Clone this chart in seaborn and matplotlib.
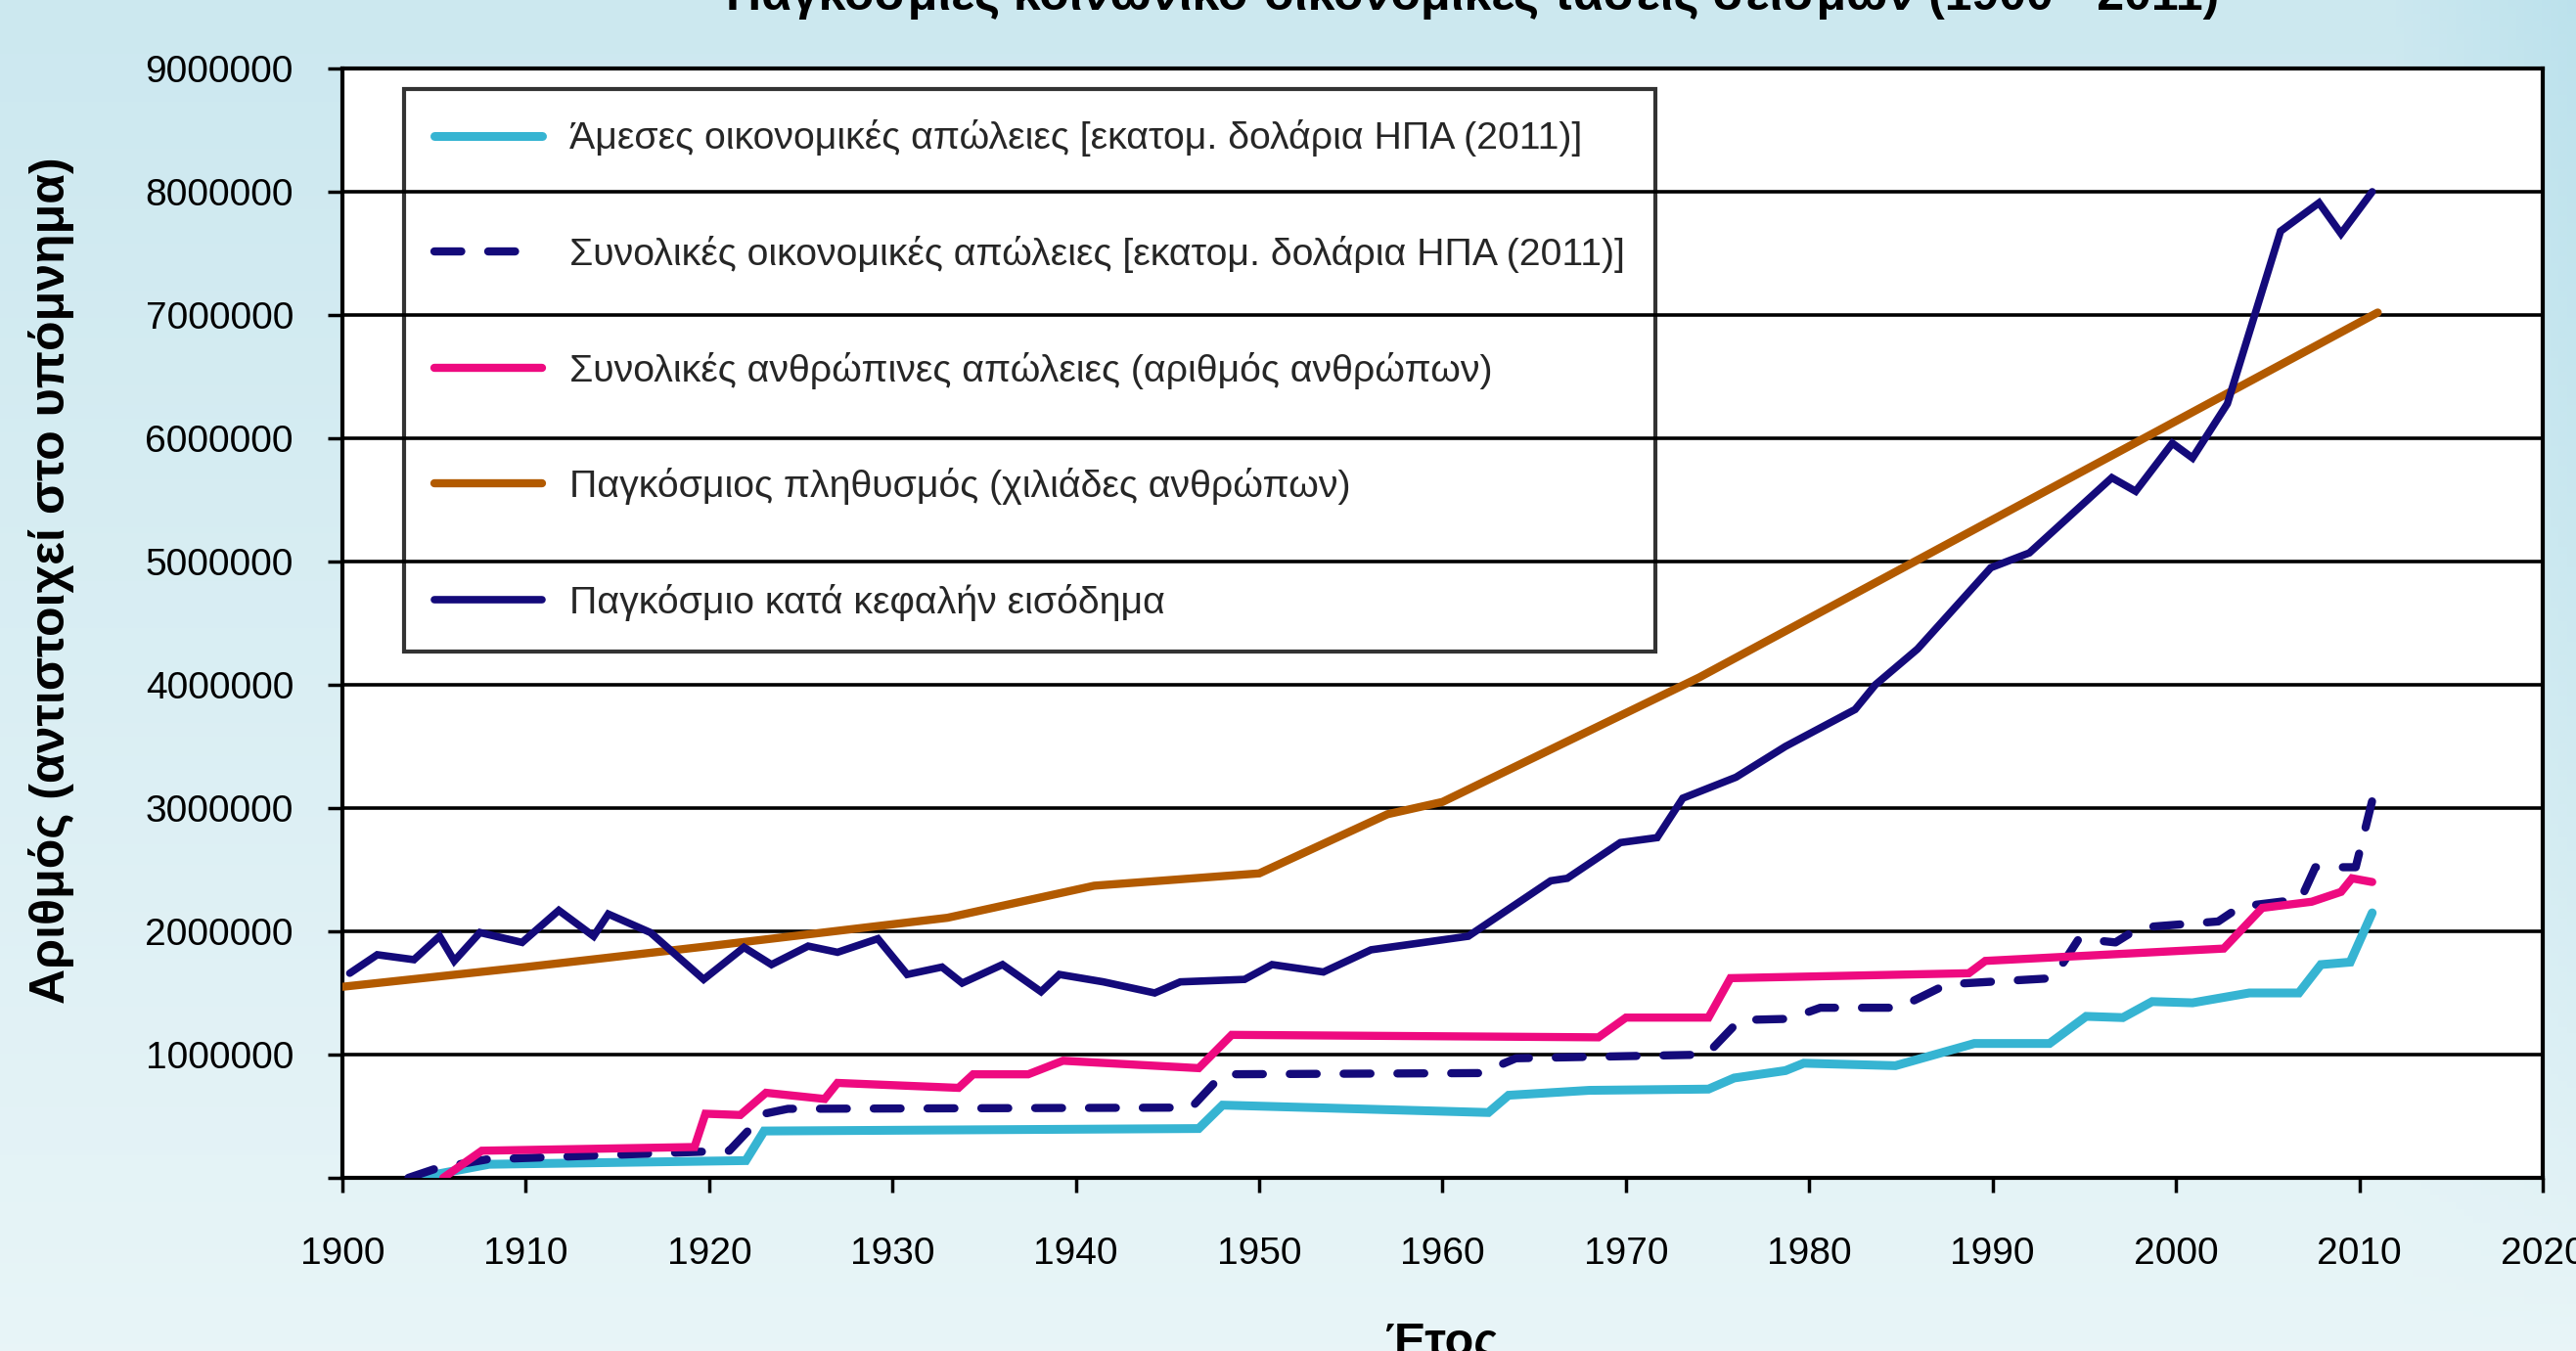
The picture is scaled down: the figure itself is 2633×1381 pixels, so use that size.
import numpy as np
import pandas as pd
import matplotlib.pyplot as plt
import seaborn as sns

# Values
years_direct = [1904.1, 1908.0, 1922.0, 1923.0, 1946.7, 1948.0, 1962.5, 1963.6, 1968.0, 1974.5,
                1975.9, 1978.7, 1979.7, 1984.7, 1989.0, 1993.1, 1995.1, 1997.1, 1998.7, 2000.9,
                2004.0, 2006.7, 2007.9, 2009.5, 2010.7]
direct_losses = [0, 110000, 140000, 380000, 400000, 590000, 530000, 670000, 710000, 720000,
                 810000, 870000, 930000, 910000, 1090000, 1090000, 1310000, 1300000, 1430000, 1420000,
                 1500000, 1500000, 1730000, 1750000, 2150000]

years_total = [1903.6, 1905.2, 1907.9, 1921.1, 1923.0, 1924.3, 1946.3, 1948.0, 1962.1, 1964.0,
               1974.4, 1976.2, 1978.9, 1980.6, 1984.9, 1987.5, 1993.3, 1994.7, 1996.7, 1998.0,
               2002.3, 2003.5, 2006.8, 2007.6, 2009.8, 2010.9]
total_losses = [0, 80000, 150000, 220000, 520000, 560000, 570000, 840000, 850000, 970000,
                1000000, 1280000, 1290000, 1380000, 1380000, 1570000, 1620000, 1940000, 1910000, 2030000,
                2080000, 2200000, 2260000, 2520000, 2520000, 3180000]

years_human = [1905.5, 1907.6, 1919.2, 1919.8, 1921.7, 1923.1, 1926.3, 1927.0, 1933.6, 1934.4,
               1937.4, 1939.3, 1946.7, 1948.5, 1968.5, 1970.0, 1974.5, 1975.7, 1988.7, 1989.6,
               2002.6, 2004.7, 2007.4, 2009.0, 2009.6, 2010.7]
human_losses = [0, 220000, 250000, 520000, 510000, 690000, 640000, 770000, 730000, 840000,
                840000, 950000, 890000, 1160000, 1140000, 1300000, 1300000, 1620000, 1660000, 1760000,
                1860000, 2190000, 2240000, 2320000, 2430000, 2400000]

years_pop = [1900, 1910, 1920, 1933, 1941, 1950, 1957, 1960, 1974, 2011]
population = [1550000, 1710000, 1880000, 2110000, 2370000, 2470000, 2950000, 3050000, 4060000, 7020000]

years_income = [1900.4, 1901.9, 1903.9, 1905.3, 1906.1, 1907.5, 1909.8, 1911.8, 1913.7, 1914.5,
                1916.8, 1919.7, 1921.9, 1923.4, 1925.4, 1927.0, 1929.2, 1930.8, 1932.7, 1933.8,
                1936.0, 1938.1, 1939.1, 1941.5, 1944.3, 1945.7, 1949.2, 1950.7, 1953.5, 1956.1,
                1961.4, 1965.9, 1966.8, 1969.7, 1971.7, 1973.1, 1976.0, 1978.7, 1982.5, 1983.6,
                1985.9, 1989.9, 1992.0, 1996.5, 1997.8, 1999.8, 2000.9, 2002.8, 2005.7, 2007.8,
                2009.0, 2010.7]
income = [1660000, 1810000, 1770000, 1960000, 1760000, 1990000, 1910000, 2170000, 1960000, 2140000,
          1990000, 1610000, 1870000, 1730000, 1880000, 1830000, 1940000, 1650000, 1710000, 1580000,
          1730000, 1510000, 1650000, 1590000, 1500000, 1590000, 1610000, 1730000, 1670000, 1850000,
          1960000, 2410000, 2430000, 2720000, 2760000, 3080000, 3250000, 3500000, 3800000, 4000000,
          4290000, 4950000, 5070000, 5680000, 5570000, 5960000, 5840000, 6280000, 7680000, 7910000,
          7660000, 8000000]

labels = [
    'Άμεσες οικονομικές απώλειες [εκατομ. δολάρια ΗΠΑ (2011)]',
    'Συνολικές οικονομικές απώλειες [εκατομ. δολάρια ΗΠΑ (2011)]',
    'Συνολικές ανθρώπινες απώλειες (αριθμός ανθρώπων)',
    'Παγκόσμιος πληθυσμός (χιλιάδες ανθρώπων)',
    'Παγκόσμιο κατά κεφαλήν εισόδημα',
]
x_ticks = list(range(1900, 2021, 10))
y_ticks = list(range(0, 9000001, 1000000))
y_tick_labels = [''] + [str(v) for v in y_ticks[1:]]

title = 'Παγκόσμιες κοινωνικο-οικονομικές τάσεις σεισμών (1900 - 2011)'
x_label = 'Έτος'
y_label = 'Αριθμός (αντιστοιχεί στο υπόμνημα)'

sns.set_theme(style='white')
plt.rcParams['font.family'] = ['Liberation Sans', 'DejaVu Sans']

W, H = 2633, 1381
fig = plt.figure(figsize=(W / 100, H / 100), dpi=100)

# soft light-blue backdrop
bg = fig.add_axes([0, 0, 1, 1], zorder=-10)
v = np.linspace(0, 1, 200)[:, None]
h = np.linspace(0, 1, 300)[None, :]
top = np.array([0.80, 0.91, 0.94])
bottom = np.array([0.91, 0.96, 0.97])
grad = top * (1 - v[..., None]) + bottom * v[..., None]
grad = grad * np.ones((1, 300, 1))
edge = np.clip((h - 0.93) / 0.07, 0, 1) * (1 - v) * 0.6
grad = grad * (1 - edge[..., None]) + np.array([0.70, 0.87, 0.92]) * edge[..., None]
bg.imshow(grad, aspect='auto', extent=[0, 1, 0, 1])
bg.set_axis_off()

ax = fig.add_axes([350 / W, 1 - 1204 / H, 2249 / W, 1134 / H])
ax.set_facecolor('white')

series = [
    (years_direct, direct_losses, '#36b4d2', 6.5, False),
    (years_total, total_losses, '#140a7a', 6.0, True),
    (years_human, human_losses, '#ee0a80', 6.0, False),
    (years_pop, population, '#b25a00', 6.0, False),
    (years_income, income, '#140a7a', 5.5, False),
]
for (xs, ys, col, lw, dashed), lab in zip(series, labels):
    sns.lineplot(x=xs, y=ys, ax=ax, color=col, linewidth=lw, label=lab,
                 estimator=None, sort=False, zorder=3)
    line = ax.lines[-1]
    line.set_solid_capstyle('round')
    line.set_solid_joinstyle('miter')
    if dashed:
        line.set_dashes((3.3, 3.3))
        line.set_dash_capstyle('round')

ax.set_xlim(1900, 2020)
ax.set_ylim(0, 9000000)
ax.set_xticks(x_ticks)
ax.set_xticklabels([str(t) for t in x_ticks])
ax.set_yticks(y_ticks)
ax.set_yticklabels(y_tick_labels)
ax.yaxis.grid(True, color='black', linewidth=2.6, zorder=1)
ax.xaxis.grid(False)
ax.set_axisbelow(True)
for s in ax.spines.values():
    s.set_color('black')
    s.set_linewidth(3)
ax.tick_params(axis='both', direction='out', length=11, width=2.5, color='black',
               labelsize=28, labelcolor='black')
ax.tick_params(axis='x', pad=32, bottom=True)
ax.tick_params(axis='y', pad=25, left=True)
ax.set_xlabel('')
ax.set_ylabel('')

leg = ax.legend(loc='upper left', bbox_to_anchor=(0.028, 0.9815), borderaxespad=0,
                fontsize=28.3, handlelength=2.8, handletextpad=0.7, borderpad=0.8,
                labelspacing=2.05, frameon=True, fancybox=False)
leg.get_frame().set_facecolor('none')
leg.get_frame().set_edgecolor('black')
leg.get_frame().set_linewidth(3)

fig.text(1505 / W, 1 - 10 / H, title, ha='center', va='baseline', fontsize=36,
         fontweight='bold', color='black')
fig.text(1474 / W, 1 - 1350 / H, x_label, ha='center', va='top', fontsize=35,
         fontweight='bold', color='black')
fig.text(53 / W, 1 - 593 / H, y_label, ha='center', va='center', rotation=90,
         fontsize=36, fontweight='bold', color='black')

fig.savefig('out.png', dpi=100)
